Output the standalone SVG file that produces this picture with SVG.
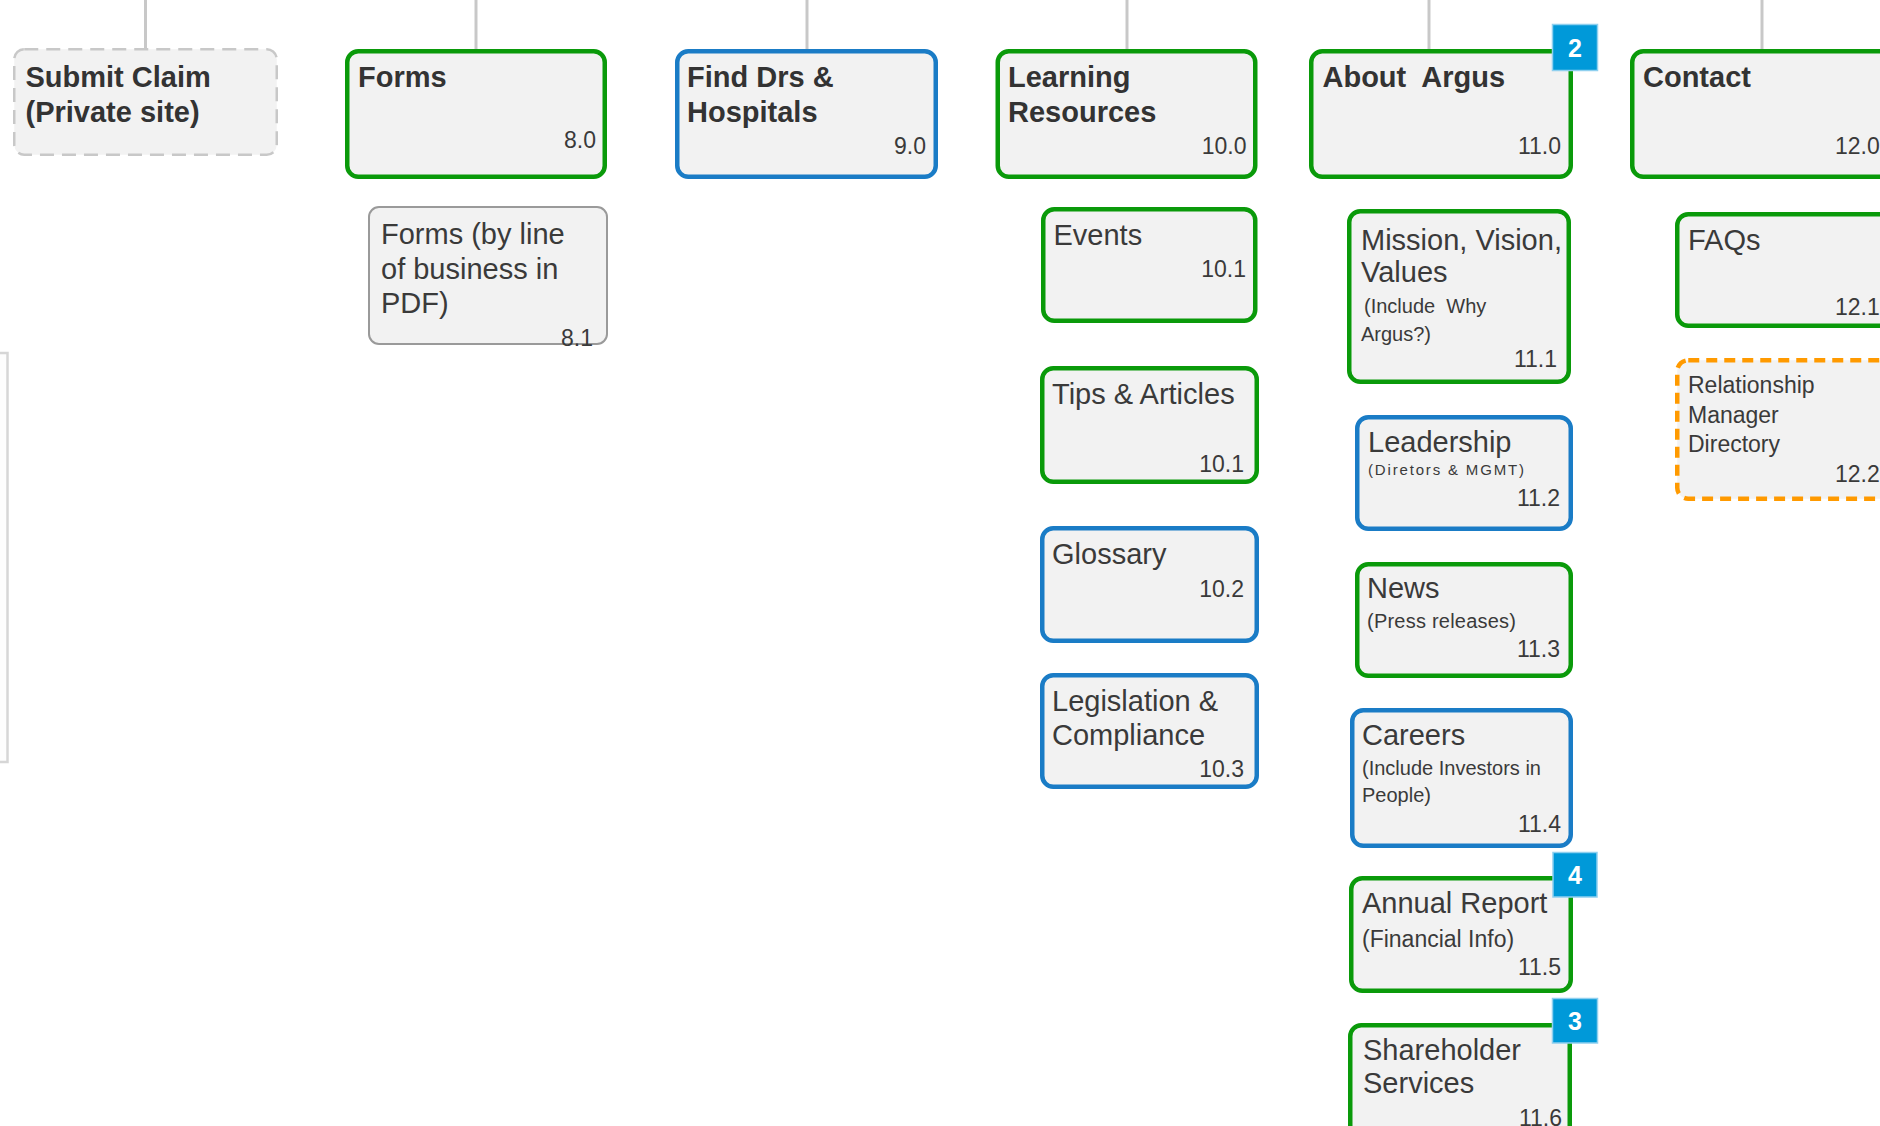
<svg xmlns="http://www.w3.org/2000/svg" width="1880" height="1126" viewBox="0 0 1880 1126">
<style>
.box{fill:#f2f2f2;stroke-width:4.5}
.g{stroke:#0a9a0a}
.b{stroke:#1a7cc6}
.o{stroke:#ff9a00;stroke-dasharray:11 7}
.dash{fill:#f2f2f2;stroke:#c8c8c8;stroke-width:2.5;stroke-dasharray:14 8}
.thin{fill:#f2f2f2;stroke:#9a9a9a;stroke-width:2}
text{font-family:"Liberation Sans",Arial,sans-serif;fill:#3a3a3a}
.t{font-size:29px;font-weight:bold;fill:#333}
.r{font-size:29px}
.n{font-size:23px;text-anchor:end}
.ns{font-size:23px}
.s{font-size:20px}
.m{font-size:23px}
.badge{fill:#0099d9;stroke:#8fd0ef;stroke-width:1.5}
.bt{font-size:25px;font-weight:bold;fill:#fff;text-anchor:middle}
.conn{stroke:#c8c8c8;stroke-width:3;fill:none}
</style>
<rect width="1880" height="1126" fill="#ffffff"/>
<g id="connectors">
<line class="conn" x1="145.5" y1="0" x2="145.5" y2="48"/>
<line class="conn" x1="476" y1="0" x2="476" y2="49"/>
<line class="conn" x1="807" y1="0" x2="807" y2="49"/>
<line class="conn" x1="1127" y1="0" x2="1127" y2="49"/>
<line class="conn" x1="1429" y1="0" x2="1429" y2="49"/>
<line class="conn" x1="1762" y1="0" x2="1762" y2="49"/>
</g>
<g id="left-partial">
<rect x="-100" y="353" width="107.5" height="409" fill="#fdfdfd" stroke="#d6d6d6" stroke-width="2.5"/>
</g>
<g id="submit-claim">
<rect class="dash" x="14.25" y="49.25" width="262.5" height="105.5" rx="10"/>
<text class="t" x="25.5" y="87">Submit Claim</text>
<text class="t" x="25.5" y="122">(Private site)</text>
</g>
<g id="forms">
<rect class="box g" x="347.25" y="51.25" width="257.5" height="125.5" rx="11"/>
<text class="t" x="358" y="87">Forms</text>
<text class="n" x="596" y="148">8.0</text>
</g>
<g id="forms-lob">
<rect class="thin" x="369" y="207" width="238" height="137" rx="10"/>
<text class="r" x="381" y="244">Forms (by line</text>
<text class="r" x="381" y="279">of business in</text>
<text class="r" x="381" y="313">PDF)</text>
<text class="n" x="593" y="346">8.1</text>
</g>
<g id="find-drs">
<rect class="box b" x="677.25" y="51.25" width="258.5" height="125.5" rx="11"/>
<text class="t" x="687" y="87">Find Drs &amp;</text>
<text class="t" x="687" y="122">Hospitals</text>
<text class="n" x="926" y="154">9.0</text>
</g>
<g id="learning">
<rect class="box g" x="997.75" y="51.25" width="257.5" height="125.5" rx="11"/>
<text class="t" x="1008" y="87">Learning</text>
<text class="t" x="1008" y="122">Resources</text>
<text class="n" x="1246.5" y="154">10.0</text>
</g>
<g id="events">
<rect class="box g" x="1043.25" y="209.25" width="212" height="111.5" rx="11"/>
<text class="r" x="1053.5" y="245">Events</text>
<text class="n" x="1246" y="277">10.1</text>
</g>
<g id="tips">
<rect class="box g" x="1042.25" y="368.25" width="214.5" height="113.5" rx="11"/>
<text class="r" x="1052" y="404">Tips &amp; Articles</text>
<text class="n" x="1244" y="472">10.1</text>
</g>
<g id="glossary">
<rect class="box b" x="1042.25" y="528.25" width="214.5" height="112.5" rx="11"/>
<text class="r" x="1052" y="564">Glossary</text>
<text class="n" x="1244" y="597">10.2</text>
</g>
<g id="legislation">
<rect class="box b" x="1042.25" y="675.25" width="214.5" height="111.5" rx="11"/>
<text class="r" x="1052" y="711">Legislation &amp;</text>
<text class="r" x="1052" y="745">Compliance</text>
<text class="n" x="1244" y="777">10.3</text>
</g>
<g id="about">
<rect class="box g" x="1311.25" y="51.25" width="259.5" height="125.5" rx="11"/>
<text class="t" x="1322.5" y="87">About&#160; Argus</text>
<text class="n" x="1561" y="154">11.0</text>
<rect class="badge" x="1552.5" y="24.5" width="45" height="46"/>
<text class="bt" x="1575" y="56.5">2</text>
</g>
<g id="mission">
<rect class="box g" x="1349.25" y="211.25" width="219.5" height="170.5" rx="11"/>
<text class="r" x="1361" y="250">Mission, Vision,</text>
<text class="r" x="1361" y="282">Values</text>
<text class="s" x="1364" y="313">(Include&#160; Why</text>
<text class="s" x="1361" y="341">Argus?)</text>
<text class="n" x="1557" y="367">11.1</text>
</g>
<g id="leadership">
<rect class="box b" x="1357.25" y="417.25" width="213.5" height="111.5" rx="11"/>
<text class="r" x="1368" y="452">Leadership</text>
<text x="1368" y="475" font-size="15" textLength="156" lengthAdjust="spacing">(Diretors &amp; MGMT)</text>
<text class="n" x="1560" y="506">11.2</text>
</g>
<g id="news">
<rect class="box g" x="1357.25" y="564.25" width="213.5" height="111.5" rx="11"/>
<text class="r" x="1367" y="598">News</text>
<text class="s" x="1367" y="628" textLength="149" lengthAdjust="spacing">(Press releases)</text>
<text class="n" x="1560" y="657">11.3</text>
</g>
<g id="careers">
<rect class="box b" x="1352.25" y="710.25" width="218.5" height="135.5" rx="11"/>
<text class="r" x="1362" y="745">Careers</text>
<text class="s" x="1362" y="775">(Include Investors in</text>
<text class="s" x="1362" y="802">People)</text>
<text class="n" x="1561" y="832">11.4</text>
</g>
<g id="annual">
<rect class="box g" x="1351.25" y="878.25" width="219.5" height="112.5" rx="11"/>
<text class="r" x="1362" y="913">Annual Report</text>
<text class="m" x="1362" y="947">(Financial Info)</text>
<text class="n" x="1561" y="975">11.5</text>
<rect class="badge" x="1553" y="852.5" width="44" height="44.5"/>
<text class="bt" x="1575" y="883.5">4</text>
</g>
<g id="shareholder">
<rect class="box g" x="1350.25" y="1025.25" width="219.5" height="130" rx="11"/>
<text class="r" x="1363" y="1060">Shareholder</text>
<text class="r" x="1363" y="1093">Services</text>
<text class="n" x="1562" y="1126">11.6</text>
<rect class="badge" x="1552.5" y="998.5" width="45" height="44.5"/>
<text class="bt" x="1575" y="1029.5">3</text>
</g>
<g id="contact">
<rect class="box g" x="1632.25" y="51.25" width="258.5" height="125.5" rx="11"/>
<text class="t" x="1643" y="87">Contact</text>
<text class="ns" x="1835" y="154">12.0</text>
</g>
<g id="faqs">
<rect class="box g" x="1677.25" y="214.25" width="220" height="111.5" rx="11"/>
<text class="r" x="1688" y="250">FAQs</text>
<text class="ns" x="1835" y="315">12.1</text>
</g>
<g id="relationship">
<rect class="box o" x="1677.25" y="360.25" width="220" height="138.5" rx="11"/>
<text class="m" x="1688" y="393">Relationship</text>
<text class="m" x="1688" y="423">Manager</text>
<text class="m" x="1688" y="452">Directory</text>
<text class="ns" x="1835" y="482">12.2</text>
</g>
</svg>
